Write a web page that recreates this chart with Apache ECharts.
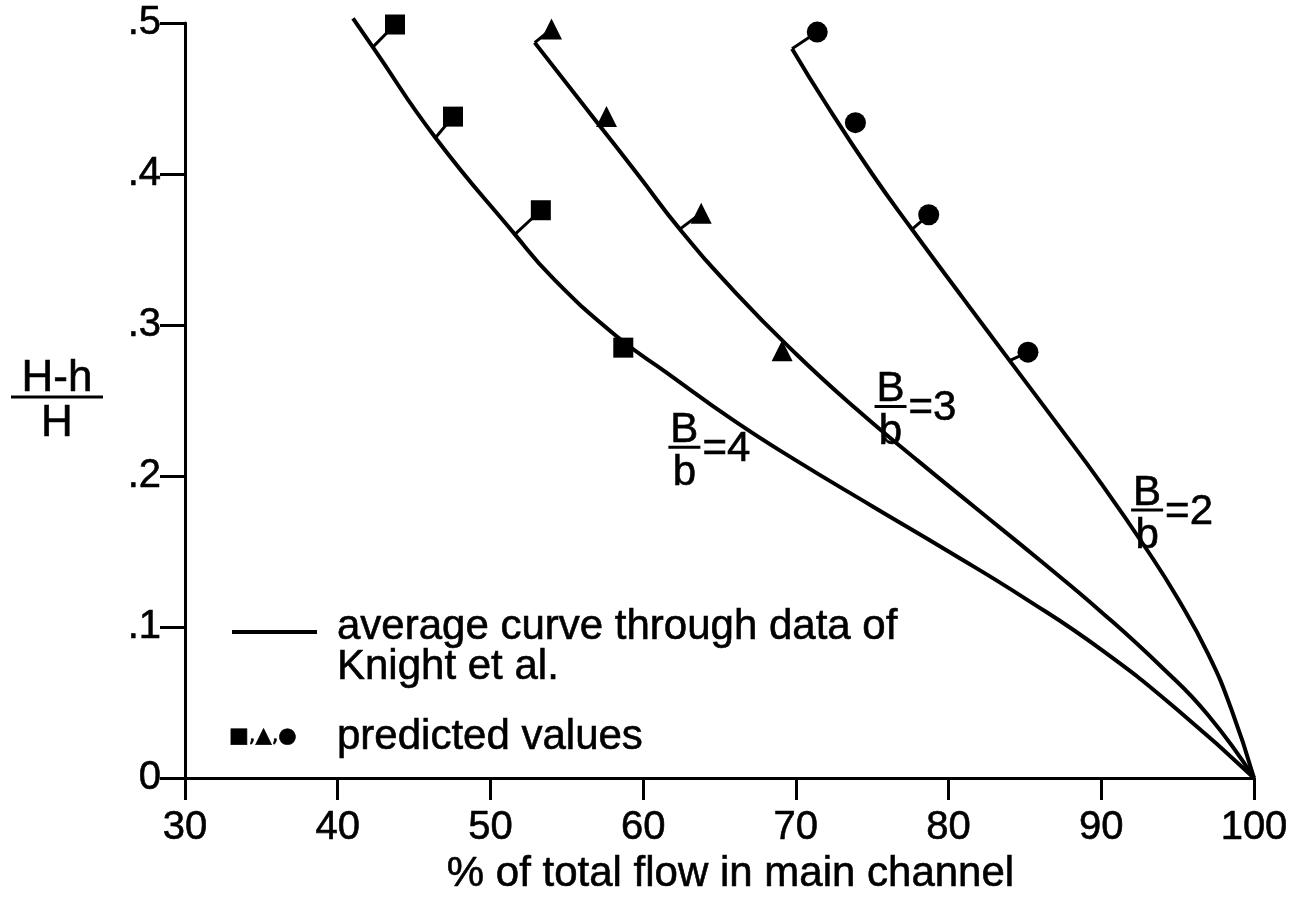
<!DOCTYPE html>
<html>
<head>
<meta charset="utf-8">
<script src="https://cdn.jsdelivr.net/npm/echarts@6/dist/echarts.min.js"></script>
<style>
  html, body { margin: 0; padding: 0; background: #fff; }
  #chart { width: 1294px; height: 904px; }
</style>
</head>
<body>
<div id="chart"></div>
<script>
// average curves through data of Knight et al.  [% of flow in main channel, (H-h)/H]
const curveB4 = [[41.0,0.503],[42.3,0.484],[46.4,0.424],[51.6,0.360],[54.0,0.332],[58.2,0.293],[61.6,0.268],[65.9,0.237],[69.9,0.211],[75,0.180],[80,0.150],[85,0.119],[90,0.085],[95,0.045],[100,0]];
const curveB3 = [[52.9,0.487],[57.0,0.434],[59.7,0.399],[62.4,0.3635],[66,0.322],[70,0.281],[74,0.244],[78,0.210],[82,0.177],[86,0.144],[90,0.110],[94,0.073],[97,0.0415],[100,0]];
const curveB2 = [[69.75,0.483],[72,0.446],[75,0.400],[77.6,0.3634],[81,0.317],[84,0.2764],[87,0.236],[90,0.195],[93,0.151],[95,0.119],[97,0.082],[98.5,0.046],[100,0]];

// predicted values
const squares   = [[43.75,0.499],[47.55,0.438],[53.3,0.376],[58.7,0.285]];
const triangles = [[54.0,0.496],[57.6,0.438],[63.8,0.374],[69.1,0.283]];
const circles   = [[71.4,0.494],[73.9,0.434],[78.7,0.373],[85.2,0.282]];

// short ticks joining a predicted point to its curve: [curve x, curve y, point x, point y]
const leaders = [
  [42.3,0.484, 43.75,0.499],
  [46.4,0.424, 47.55,0.438],
  [51.6,0.360, 53.3,0.376],
  [52.9,0.487, 54.0,0.496],
  [62.4,0.3635, 63.8,0.374],
  [69.75,0.483, 71.4,0.494],
  [77.6,0.3634, 78.7,0.373],
  [84.0,0.2764, 85.2,0.282]
];

// B/b labels, placed at the fraction bar
const curveLabels = [
  { text: '=4', x: 62.7, y: 0.219 },
  { text: '=3', x: 76.2, y: 0.246 },
  { text: '=2', x: 93.0, y: 0.1775 }
];

const yTickLabels = ['0', '.1', '.2', '.3', '.4', '.5'];

const FONT = '"Liberation Sans", Arial, Helvetica, sans-serif';
const INK = { textBorderColor: '#000', textBorderWidth: 0.6 };
const chart = echarts.init(document.getElementById('chart'));

function curve(data) {
  return {
    type: 'line',
    data: data,
    smooth: 0.5,
    symbol: 'none',
    clip: false,
    lineStyle: { color: '#000', width: 4 },
    z: 3
  };
}

function points(data, symbol, size) {
  return {
    type: 'scatter',
    data: data,
    symbol: symbol,
    symbolSize: size,
    itemStyle: { color: '#000', opacity: 1 },
    z: 5
  };
}

const option = {
  backgroundColor: '#fff',
  animation: false,
  grid: { left: 185, right: 40, top: 23, bottom: 126 },
  xAxis: {
    type: 'value',
    min: 30,
    max: 100,
    interval: 10,
    name: '% of total flow in main channel',
    nameLocation: 'middle',
    nameGap: 52,
    nameTextStyle: Object.assign({ color: '#000', fontSize: 42, fontFamily: FONT, padding: [0, 0, 0, 22] }, INK),
    splitLine: { show: false },
    axisLine: { lineStyle: { color: '#000', width: 3 } },
    axisTick: { length: 22, lineStyle: { color: '#000', width: 3 } },
    axisLabel: Object.assign({ color: '#000', fontSize: 40, fontFamily: FONT, margin: 30 }, INK)
  },
  yAxis: {
    type: 'value',
    min: 0,
    max: 0.5,
    interval: 0.1,
    splitLine: { show: false },
    axisLine: { lineStyle: { color: '#000', width: 3 } },
    axisTick: { length: 25, lineStyle: { color: '#000', width: 3 } },
    axisLabel: Object.assign({
      color: '#000', fontSize: 40, fontFamily: FONT, margin: 24,
      formatter: function (v) { return yTickLabels[Math.round(v * 10)]; }
    }, INK)
  },
  series: [
    curve(curveB4),
    curve(curveB3),
    curve(curveB2),
    {
      type: 'lines',
      coordinateSystem: 'cartesian2d',
      data: leaders.map(function (l) { return { coords: [[l[0], l[1]], [l[2], l[3]]] }; }),
      lineStyle: { color: '#000', width: 3, opacity: 1 },
      z: 4
    },
    points(squares, 'rect', 20),
    points(triangles, 'triangle', 21),
    points(circles, 'circle', 21)
  ]
};
chart.setOption(option);

function txt(x, y, text, size, align, vAlign, extra) {
  return {
    type: 'text', x: x, y: y,
    style: Object.assign({
      text: text, fill: '#000', stroke: '#000', lineWidth: 0.6,
      fontSize: size, fontFamily: FONT, align: align, verticalAlign: vAlign
    }, extra || {})
  };
}

// fraction text: top over a bar over bottom, with an optional suffix
function fraction(cx, cy, top, bottom, suffix, size, barW) {
  const els = [
    txt(cx, cy + 4, top, size, 'center', 'bottom'),
    { type: 'line', shape: { x1: cx - barW / 2, y1: cy, x2: cx + barW / 2, y2: cy }, style: { stroke: '#000', lineWidth: 3 } },
    txt(cx, cy + 5, bottom, size, 'center', 'top')
  ];
  if (suffix) els.push(txt(cx + barW / 2 + 2, cy + 2, suffix, size, 'left', 'middle'));
  return els;
}

let graphics = [];
curveLabels.forEach(function (c) {
  const p = chart.convertToPixel({ gridIndex: 0 }, [c.x, c.y]);
  graphics = graphics.concat(fraction(p[0], p[1], 'B', 'b', c.text, 42, 32));
});

// y axis title
graphics = graphics.concat(fraction(57, 397, 'H-h', 'H', '', 44, 92));

// key
graphics.push(
  { type: 'line', shape: { x1: 232, y1: 632, x2: 317, y2: 632 }, style: { stroke: '#000', lineWidth: 4 } },
  txt(337, 607, 'average curve through data of\nKnight et al.', 42, 'left', 'top', { lineHeight: 40 }),
  txt(229, 737, '■,▲,●', 21, 'left', 'middle', { fontFamily: '"DejaVu Sans", sans-serif' }),
  txt(337, 737, 'predicted values', 42, 'left', 'middle')
);

chart.setOption({ graphic: graphics });
</script>
</body>
</html>
